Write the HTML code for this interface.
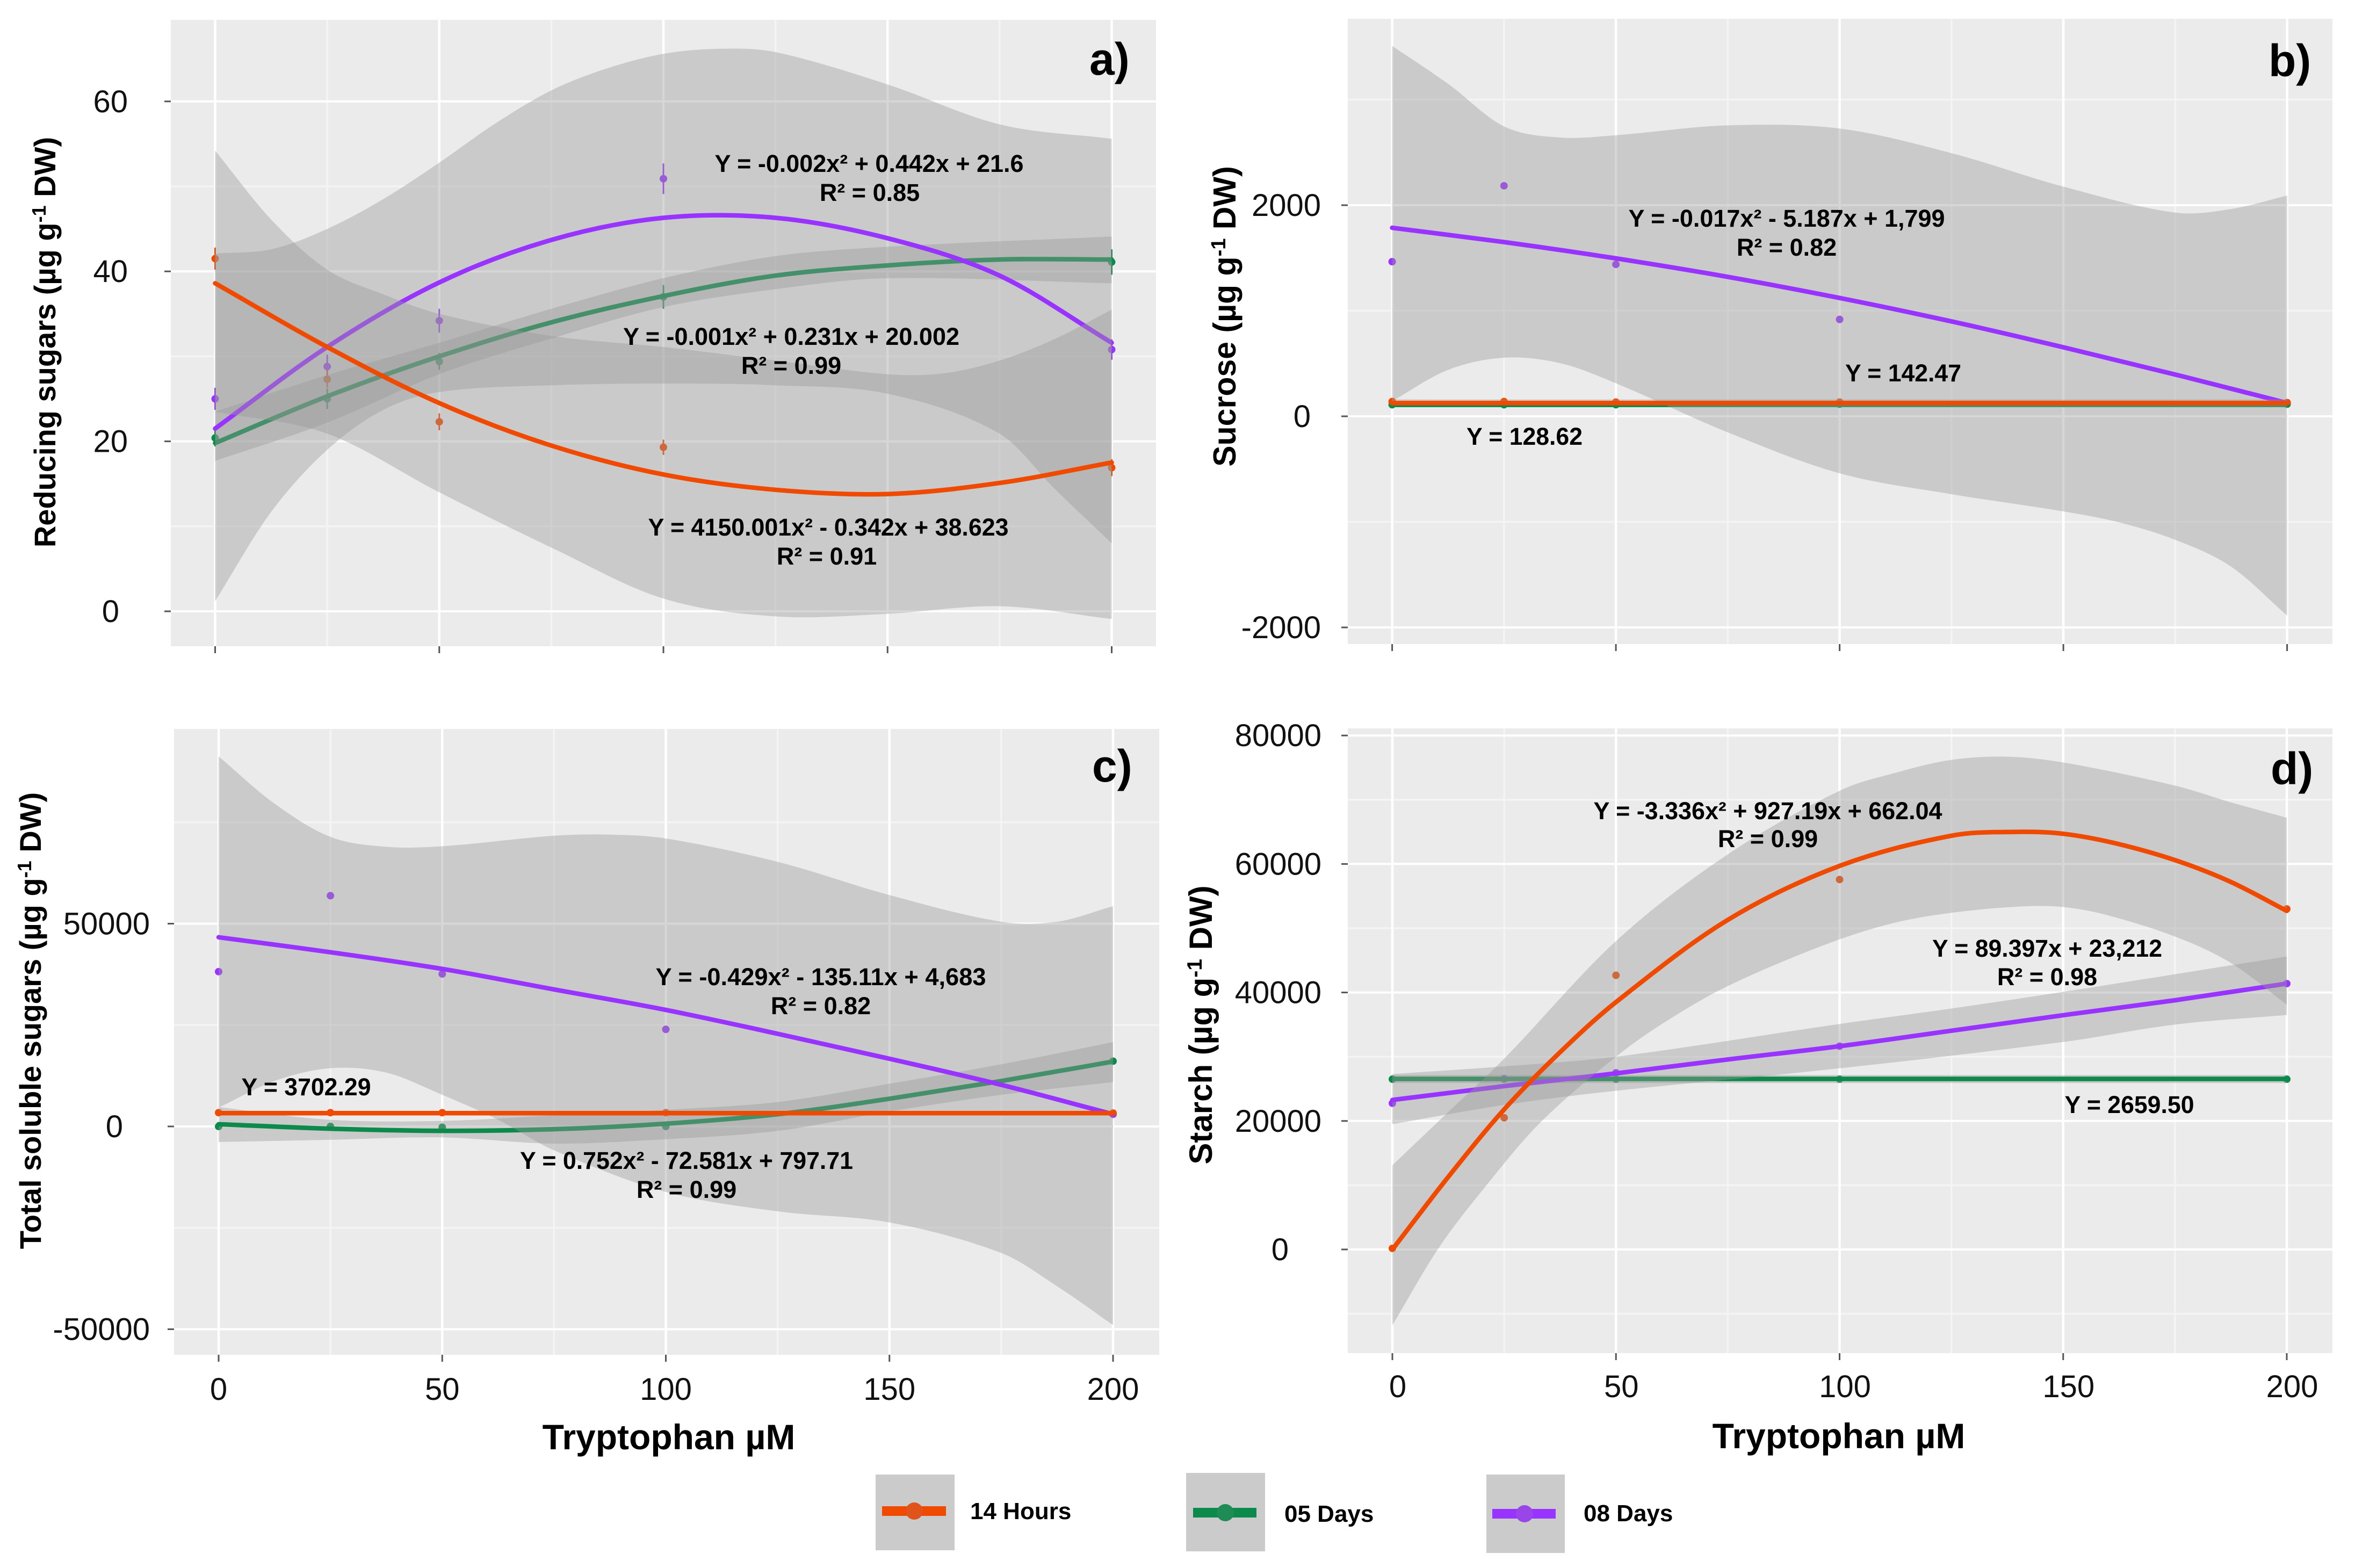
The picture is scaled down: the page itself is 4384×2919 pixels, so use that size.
<!DOCTYPE html>
<html lang="en">
<head>
<meta charset="utf-8">
<title>Sugars and starch versus tryptophan</title>
<style>
html,body{margin:0;padding:0;background:#fff;}
svg{display:block;font-family:"Liberation Sans",Arial,sans-serif;}
.eq{font-size:45px;font-weight:bold;fill:#000;text-anchor:middle;}
.ytitle{font-size:56px;font-weight:bold;fill:#000;text-anchor:middle;}
.xtitle{font-size:66px;font-weight:bold;fill:#000;text-anchor:middle;}
.tag{font-size:84px;font-weight:bold;fill:#000;}
.leg{font-size:44px;font-weight:bold;fill:#000;}
.tick{font-size:58px;fill:#111;}
</style>
</head>
<body>
<svg id="chart" xmlns="http://www.w3.org/2000/svg" width="4384" height="2919" viewBox="0 0 4384 2919">
  <rect x="0" y="0" width="4384" height="2919" fill="#ffffff"/>
  <g id="plots"></g>

  <g>
    <text class="tag" x="2028" y="139">a)</text>
    <text class="tag" x="4223" y="142">b)</text>
    <text class="tag" x="2033" y="1455">c)</text>
    <text class="tag" x="4227" y="1460">d)</text>
  </g>

  <g>
    <text class="ytitle" transform="translate(103,637) rotate(-90)">Reducing sugars (µg g<tspan font-size="36" dy="-18">-1</tspan><tspan dy="18"> DW)</tspan></text>
    <text class="ytitle" style="font-size:59px" transform="translate(2300,589) rotate(-90)">Sucrose (µg g<tspan font-size="38" dy="-19">-1</tspan><tspan dy="19"> DW)</tspan></text>
    <text class="ytitle" transform="translate(76,1900) rotate(-90)">Total soluble sugars (µg g<tspan font-size="36" dy="-18">-1</tspan><tspan dy="18"> DW)</tspan></text>
    <text class="ytitle" style="font-size:60px" transform="translate(2256,1908) rotate(-90)">Starch (µg g<tspan font-size="39" dy="-19">-1</tspan><tspan dy="19"> DW)</tspan></text>
  </g>

  <g>
    <text class="xtitle" x="1245" y="2698">Tryptophan µM</text>
    <text class="xtitle" x="3423" y="2696">Tryptophan µM</text>
  </g>

  <g>
    <text class="eq" x="1618" y="320" textLength="575" lengthAdjust="spacingAndGlyphs">Y = -0.002x² + 0.442x + 21.6</text>
    <text class="eq" x="1619" y="374">R² = 0.85</text>
    <text class="eq" x="1473" y="642" textLength="626" lengthAdjust="spacingAndGlyphs">Y = -0.001x² + 0.231x + 20.002</text>
    <text class="eq" x="1473" y="696">R² = 0.99</text>
    <text class="eq" x="1542" y="997" textLength="671" lengthAdjust="spacingAndGlyphs">Y = 4150.001x² - 0.342x + 38.623</text>
    <text class="eq" x="1539" y="1051">R² = 0.91</text>

    <text class="eq" x="3326" y="422" textLength="589" lengthAdjust="spacingAndGlyphs">Y = -0.017x² - 5.187x + 1,799</text>
    <text class="eq" x="3326" y="476">R² = 0.82</text>
    <text class="eq" x="3543" y="710" textLength="216" lengthAdjust="spacingAndGlyphs">Y = 142.47</text>
    <text class="eq" x="2838" y="828" textLength="216" lengthAdjust="spacingAndGlyphs">Y = 128.62</text>

    <text class="eq" x="1528" y="1834" textLength="615" lengthAdjust="spacingAndGlyphs">Y = -0.429x² - 135.11x + 4,683</text>
    <text class="eq" x="1528" y="1888">R² = 0.82</text>
    <text class="eq" x="570" y="2039" textLength="241" lengthAdjust="spacingAndGlyphs">Y = 3702.29</text>
    <text class="eq" x="1278" y="2176" textLength="620" lengthAdjust="spacingAndGlyphs">Y = 0.752x² - 72.581x + 797.71</text>
    <text class="eq" x="1278" y="2230">R² = 0.99</text>

    <text class="eq" x="3291" y="1525" textLength="649" lengthAdjust="spacingAndGlyphs">Y = -3.336x² + 927.19x + 662.04</text>
    <text class="eq" x="3291" y="1577">R² = 0.99</text>
    <text class="eq" x="3811" y="1781" textLength="428" lengthAdjust="spacingAndGlyphs">Y = 89.397x + 23,212</text>
    <text class="eq" x="3811" y="1834">R² = 0.98</text>
    <text class="eq" x="3964" y="2072" textLength="241" lengthAdjust="spacingAndGlyphs">Y = 2659.50</text>
  </g>

  <g>
    <g>
      <rect x="1630" y="2745" width="147" height="141" fill="#cbcbcb"/>
      <line x1="1642" x2="1761" y1="2813" y2="2813" stroke="#F04A00" stroke-width="18"/>
      <circle cx="1702" cy="2813" r="16" fill="#E0531B"/>
      <text class="leg" x="1806" y="2828">14 Hours</text>
    </g>
    <g>
      <rect x="2208" y="2742" width="147" height="146" fill="#cbcbcb"/>
      <line x1="2221" x2="2339" y1="2816" y2="2816" stroke="#0B8A4B" stroke-width="18"/>
      <circle cx="2281" cy="2816" r="16" fill="#1F8C55"/>
      <text class="leg" x="2391" y="2833">05 Days</text>
    </g>
    <g>
      <rect x="2767" y="2745" width="146" height="146" fill="#cbcbcb"/>
      <line x1="2778" x2="2896" y1="2818" y2="2818" stroke="#9933FF" stroke-width="18"/>
      <circle cx="2838" cy="2818" r="16" fill="#9A45EA"/>
      <text class="leg" x="2948" y="2832">08 Days</text>
    </g>
  </g>
</svg>

<script>
// ---------- shared axis data ----------
const doses = [0, 25, 50, 100, 200];
const fitDoses = [0, 25, 50, 75, 100, 125, 150, 175, 200];
const xMajorTicks = [0, 50, 100, 150, 200];
const xMinorTicks = [25, 75, 125, 175];
const xTickLabels = ['0', '50', '100', '150', '200'];

// ---------- panel a: reducing sugars ----------
const aYTicks = [0, 20, 40, 60];
const aYMinor = [10, 30, 50];
const aYLabels = ['0', '20', '40', '60'];
const aRedPoints = [41.5, 27.3, 22.3, 19.3, 16.9];
const aRedErrors = [1.3, 1.0, 1.0, 0.9, 1.0];
const aGreenPoints = [20.4, 25.0, 29.4, 37.0, 41.1];
const aGreenErrors = [1.0, 1.2, 1.0, 1.4, 1.5];
const aPurplePoints = [25.0, 28.8, 34.2, 50.9, 30.8];
const aPurpleErrors = [1.3, 1.4, 1.4, 1.8, 1.2];
const aRedFit = [38.6, 31.1, 24.5, 19.5, 16.1, 14.3, 13.8, 15.1, 17.5];
const aGreenFit = [19.8, 25.3, 30.0, 34.0, 37.1, 39.5, 40.7, 41.4, 41.4];
const aPurpleFit = [21.5, 31.1, 38.7, 43.7, 46.3, 46.3, 43.9, 39.5, 31.6];
const aRedUpperX = [0, 12.5, 25, 37.5, 50, 75, 100, 125, 150, 162.5, 175, 187.5, 200];
const aRedUpper = [54.2, 46.1, 40.2, 37.3, 35, 32.4, 31.1, 29.5, 27.9, 28, 29.5, 32.1, 35.5];
const aRedLowerX = [0, 25, 50, 75, 100, 125, 150, 175, 200];
const aRedLower = [23.5, 20.9, 14, 7.5, 1.5, -0.6, -0.3, 0.6, -0.9];
const aGreenUpperX = [0, 25, 50, 75, 100, 125, 150, 200];
const aGreenUpper = [23.5, 27.8, 31.6, 35.6, 39.2, 41.8, 42.9, 44.1];
const aGreenLowerX = [0, 25, 50, 75, 100, 125, 150, 200];
const aGreenLower = [17.7, 22.2, 27.9, 32.1, 35.8, 37.9, 39.2, 38.6];
const aPurpleUpperX = [0, 12.5, 25, 37.5, 50, 62.5, 75, 87.5, 100, 112.5, 125, 150, 175, 200];
const aPurpleUpper = [42.1, 42.6, 45, 48.5, 52.8, 57.4, 61.3, 63.9, 65.6, 66.2, 65.8, 62, 57.3, 55.6];
const aPurpleLowerX = [0, 12.5, 25, 37.5, 50, 75, 100, 125, 150, 175, 187.5, 200];
const aPurpleLower = [1.2, 11.7, 19, 23.7, 25.8, 26.6, 26.8, 26.6, 25.6, 20.9, 14.3, 8];

// ---------- panel b: sucrose ----------
const bYTicks = [-2000, 0, 2000];
const bYMinor = [-1000, 1000, 3000];
const bYLabels = ['-2000', '0', '2000'];
const bRedPoints = [140, 140, 135, 135, 130];
const bGreenPoints = [110, 110, 110, 115, 115];
const bPurplePoints = [1465, 2184, 1439, 918, 130];
const bRedFit = [125, 125, 125, 125, 125, 125, 125, 125, 125];
const bGreenFit = [108, 108, 108, 108, 108, 108, 108, 108, 108];
const bPurpleFit = [1786, 1651, 1496, 1321, 1121, 899, 654, 396, 126];
const bRedUpper = [160, 160, 160, 160, 160, 160, 160, 160, 160];
const bRedLower = [105, 105, 105, 105, 105, 105, 105, 105, 105];
const bGreenUpper = [130, 130, 130, 130, 130, 130, 130, 130, 130];
const bGreenLower = [88, 88, 88, 88, 88, 88, 88, 88, 88];
const bPurpleUpperX = [0, 12.5, 25, 37.5, 50, 75, 100, 125, 150, 175, 187.5, 200];
const bPurpleUpper = [3509, 3150, 2747, 2641, 2663, 2756, 2726, 2493, 2176, 1930, 1964, 2091];
const bPurpleLowerX = [0, 12.5, 25, 37.5, 50, 75, 100, 125, 150, 162.5, 175, 187.5, 200];
const bPurpleLower = [144, 440, 555, 504, 313, -152, -540, -738, -901, -1005, -1170, -1425, -1888];

// ---------- panel c: total soluble sugars ----------
const cYTicks = [-50000, 0, 50000];
const cYMinor = [-25000, 25000, 75000];
const cYLabels = ['-50000', '0', '50000'];
const cRedPoints = [3400, 3400, 3400, 3400, 3300];
const cGreenPoints = [0, 0, -200, 0, 16100];
const cPurplePoints = [38170, 56900, 37600, 23940, 3000];
const cRedFit = [3280, 3280, 3280, 3280, 3280, 3280, 3280, 3280, 3280];
const cGreenFit = [550, -550, -1090, -680, 680, 3000, 6840, 11200, 16000];
const cPurpleFit = [46650, 42950, 38850, 33790, 28730, 22850, 16690, 10260, 3000];
const cRedUpper = [3700, 3700, 3700, 3700, 3700, 3700, 3700, 3700, 3700];
const cRedLower = [2850, 2850, 2850, 2850, 2850, 2850, 2850, 2850, 2850];
const cGreenUpper = [4790, 1640, 1370, 2740, 4100, 6020, 10530, 15320, 20790];
const cGreenLower = [-3830, -3300, -2700, -4240, -3150, -1100, 3690, 7800, 10940];
const cPurpleUpperX = [0, 12.5, 25, 37.5, 50, 75, 87.5, 100, 125, 150, 175, 187.5, 200];
const cPurpleUpper = [91240, 79600, 71400, 68950, 69080, 71680, 71950, 71000, 65250, 57050, 50480, 50480, 54310];
const cPurpleLowerX = [0, 12.5, 25, 37.5, 50, 62.5, 75, 100, 125, 150, 175, 187.5, 200];
const cPurpleLower = [4650, 11200, 14360, 13270, 7800, 1640, -5880, -16140, -20930, -23670, -31190, -39400, -48970];

// ---------- panel d: starch ----------
const dYTicks = [0, 20000, 40000, 60000, 80000];
const dYMinor = [-10000, 10000, 30000, 50000, 70000];
const dYLabels = ['0', '20000', '40000', '60000', '80000'];
const dRedPoints = [170, 20500, 42670, 57580, 53000];
const dGreenPoints = [26500, 26500, 26500, 26500, 26500];
const dPurplePoints = [22760, 26600, 27500, 31640, 41380];
const dRedFitX = [0, 12.5, 25, 37.5, 50, 75, 100, 125, 139.7, 150, 161.8, 175, 187.5, 200];
const dRedFit = [0, 11300, 21800, 30700, 38500, 51300, 59700, 64400, 65000, 64700, 63200, 60600, 57200, 52700];
const dGreenFit = [26550, 26550, 26550, 26550, 26550, 26550, 26550, 26550, 26550];
const dPurpleFit = [23270, 25430, 27410, 29570, 31640, 34050, 36460, 38790, 41380];
const dRedUpperX = [0, 12.5, 25, 50, 75, 100, 112.5, 125, 137.5, 150, 175, 187.5, 200];
const dRedUpper = [13100, 21400, 29700, 48000, 61500, 71400, 74200, 76200, 76700, 75800, 72200, 69600, 67200];
const dRedLowerX = [0, 10.3, 20.7, 33, 50, 61.4, 75, 97, 111.7, 125, 141, 150, 159.5, 175, 187.5, 200];
const dRedLower = [-11800, 170, 9700, 19700, 30000, 35600, 41000, 47500, 50750, 52400, 53400, 53300, 52100, 48700, 44600, 38100];
const dGreenUpper = [27150, 27150, 27150, 27150, 27150, 27150, 27150, 27150, 27150];
const dGreenLower = [25900, 25900, 25900, 25900, 25900, 25900, 25900, 25900, 25900];
const dPurpleUpperX = [0, 25, 50, 100, 125, 150, 200];
const dPurpleUpper = [27300, 28500, 30000, 35100, 37500, 40100, 45600];
const dPurpleLowerX = [0, 25, 50, 100, 150, 175, 200];
const dPurpleLower = [19500, 22500, 24700, 28190, 32300, 35000, 36500];

// ---------- drawing ----------
const NS = 'http://www.w3.org/2000/svg';
const RED = '#F04A00', GREEN = '#0B8A4B', PURPLE = '#9933FF';

function mk(tag, attrs, parent) {
  const el = document.createElementNS(NS, tag);
  for (const k in attrs) el.setAttribute(k, attrs[k]);
  parent.appendChild(el);
  return el;
}

// Smooth curve through mapped data points
function curve(pts) {
  let d = '';
  const n = pts.length;
  const slope = i => {
    const a = pts[Math.max(i - 1, 0)], b = pts[Math.min(i + 1, n - 1)];
    return (b[1] - a[1]) / (b[0] - a[0]);
  };
  for (let i = 0; i < n - 1; i++) {
    const p = pts[i], q = pts[i + 1], h = (q[0] - p[0]) / 3;
    d += ' C' + (p[0] + h).toFixed(1) + ' ' + (p[1] + slope(i) * h).toFixed(1) + ' ' +
         (q[0] - h).toFixed(1) + ' ' + (q[1] - slope(i + 1) * h).toFixed(1) + ' ' +
         q[0].toFixed(1) + ' ' + q[1].toFixed(1);
  }
  return d;
}

function drawPanel(cfg) {
  const sx = v => cfg.x0 + v * cfg.xk;
  const sy = v => cfg.y0 - v * cfg.yk;
  const root = document.getElementById('plots');

  const g = mk('g', {}, root);
  
  

  const bg = mk('rect', {x: cfg.left, y: cfg.top, width: cfg.right - cfg.left, height: cfg.bottom - cfg.top, fill: '#EBEBEB'}, g);
  
  

  cfg.yMinor.forEach(v => {
    const l = mk('line', {x1: cfg.left, x2: cfg.right, y1: sy(v), y2: sy(v), stroke: '#f4f4f4', 'stroke-width': 3.5}, g);
    
    
  });
  xMinorTicks.forEach(v => {
    const l = mk('line', {x1: sx(v), x2: sx(v), y1: cfg.top, y2: cfg.bottom, stroke: '#f4f4f4', 'stroke-width': 3.5}, g);
    
    
  });
  cfg.yTicks.forEach((v, i) => {
    const l = mk('line', {x1: cfg.left, x2: cfg.right, y1: sy(v), y2: sy(v), stroke: '#fff', 'stroke-width': 4}, g);
    
    
    const t = mk('line', {x1: cfg.left - 12, x2: cfg.left, y1: sy(v), y2: sy(v), stroke: '#555', 'stroke-width': 3}, g);
    
    
    const lab = mk('text', {x: v === 0 ? cfg.labelRight + cfg.zeroDx : cfg.labelRight, y: sy(v) + 20, 'text-anchor': 'end', class: 'tick'}, g);
    
    
    lab.textContent = cfg.yLabels[i];
  });
  xMajorTicks.forEach((v, i) => {
    const l = mk('line', {x1: sx(v), x2: sx(v), y1: cfg.top, y2: cfg.bottom, stroke: '#fff', 'stroke-width': 4.5}, g);
    
    
    const t = mk('line', {x1: sx(v), x2: sx(v), y1: cfg.bottom, y2: cfg.bottom + 13, stroke: '#555', 'stroke-width': 3}, g);
    
    
    if (cfg.showXLabels) {
      const lab = mk('text', {x: sx(v) + cfg.xLabelDx, y: cfg.xLabelY, 'text-anchor': 'middle', class: 'tick'}, g);
      
      
      lab.textContent = xTickLabels[i];
    }
  });

  // Points sit under the smoothers, so ribbons mute them
  cfg.series.forEach(s => {
    s.points.forEach((v, i) => {
      if (s.errors) {
        const e = mk('line', {x1: sx(doses[i]), x2: sx(doses[i]), y1: sy(v - s.errors[i]), y2: sy(v + s.errors[i]), stroke: s.color, 'stroke-width': 3}, g);
        
        
      }
      const c = mk('circle', {cx: sx(doses[i]), cy: sy(v), r: 7, fill: s.color}, g);
      
      
    });
  });

  cfg.series.forEach(s => {
    const up = s.upperX.map((x, i) => [sx(x), sy(s.upper[i])]);
    const lo = s.lowerX.map((x, i) => [sx(x), sy(s.lower[i])]).reverse();
    const d = 'M' + up[0][0] + ' ' + up[0][1] + curve(up) + ' L' + lo[0][0] + ' ' + lo[0][1] + curve(lo) + ' Z';
    const r = mk('path', {d: d, fill: '#999999', 'fill-opacity': 0.4}, g);
    
    

    const fit = s.fitX.map((x, i) => [sx(x), sy(s.fit[i])]);
    const p = mk('path', {d: 'M' + fit[0][0] + ' ' + fit[0][1] + curve(fit), fill: 'none', stroke: s.color, 'stroke-width': 8.5, 'stroke-linecap': 'round'}, g);
    
    
  });
}

drawPanel({
  key: 'a', left: 318, right: 2152, top: 37, bottom: 1203,
  x0: 400.5, xk: 8.345, y0: 1138, yk: 15.82,
  yTicks: aYTicks, yMinor: aYMinor, yLabels: aYLabels,
  labelRight: 238, zeroDx: -16, showXLabels: false,
  series: [
    {name: '05-days', color: GREEN, points: aGreenPoints, errors: aGreenErrors, fitX: fitDoses, fit: aGreenFit, upperX: aGreenUpperX, upper: aGreenUpper, lowerX: aGreenLowerX, lower: aGreenLower},
    {name: '08-days', color: PURPLE, points: aPurplePoints, errors: aPurpleErrors, fitX: fitDoses, fit: aPurpleFit, upperX: aPurpleUpperX, upper: aPurpleUpper, lowerX: aPurpleLowerX, lower: aPurpleLower},
    {name: '14-hours', color: RED, points: aRedPoints, errors: aRedErrors, fitX: fitDoses, fit: aRedFit, upperX: aRedUpperX, upper: aRedUpper, lowerX: aRedLowerX, lower: aRedLower}
  ]
});

drawPanel({
  key: 'b', left: 2509, right: 4342, top: 35, bottom: 1199,
  x0: 2591.6, xk: 8.33, y0: 775, yk: 0.1965,
  yTicks: bYTicks, yMinor: bYMinor, yLabels: bYLabels,
  labelRight: 2459, zeroDx: -19, showXLabels: false,
  series: [
    {name: '05-days', color: GREEN, points: bGreenPoints, fitX: fitDoses, fit: bGreenFit, upperX: fitDoses, upper: bGreenUpper, lowerX: fitDoses, lower: bGreenLower},
    {name: '08-days', color: PURPLE, points: bPurplePoints, fitX: fitDoses, fit: bPurpleFit, upperX: bPurpleUpperX, upper: bPurpleUpper, lowerX: bPurpleLowerX, lower: bPurpleLower},
    {name: '14-hours', color: RED, points: bRedPoints, fitX: fitDoses, fit: bRedFit, upperX: fitDoses, upper: bRedUpper, lowerX: fitDoses, lower: bRedLower}
  ]
});

drawPanel({
  key: 'c', left: 324, right: 2158, top: 1357, bottom: 2522,
  x0: 407, xk: 8.325, y0: 2097, yk: 0.00755,
  yTicks: cYTicks, yMinor: cYMinor, yLabels: cYLabels,
  labelRight: 279, zeroDx: -50, showXLabels: true, xLabelDx: 0, xLabelY: 2606,
  series: [
    {name: '05-days', color: GREEN, points: cGreenPoints, fitX: fitDoses, fit: cGreenFit, upperX: fitDoses, upper: cGreenUpper, lowerX: fitDoses, lower: cGreenLower},
    {name: '08-days', color: PURPLE, points: cPurplePoints, fitX: fitDoses, fit: cPurpleFit, upperX: cPurpleUpperX, upper: cPurpleUpper, lowerX: cPurpleLowerX, lower: cPurpleLower},
    {name: '14-hours', color: RED, points: cRedPoints, fitX: fitDoses, fit: cRedFit, upperX: fitDoses, upper: cRedUpper, lowerX: fitDoses, lower: cRedLower}
  ]
});

drawPanel({
  key: 'd', left: 2509, right: 4342, top: 1356, bottom: 2519,
  x0: 2592, xk: 8.325, y0: 2326, yk: 0.01196,
  yTicks: dYTicks, yMinor: dYMinor, yLabels: dYLabels,
  labelRight: 2460, zeroDx: -61, showXLabels: true, xLabelDx: 10, xLabelY: 2601,
  series: [
    {name: '05-days', color: GREEN, points: dGreenPoints, fitX: fitDoses, fit: dGreenFit, upperX: fitDoses, upper: dGreenUpper, lowerX: fitDoses, lower: dGreenLower},
    {name: '08-days', color: PURPLE, points: dPurplePoints, fitX: fitDoses, fit: dPurpleFit, upperX: dPurpleUpperX, upper: dPurpleUpper, lowerX: dPurpleLowerX, lower: dPurpleLower},
    {name: '14-hours', color: RED, points: dRedPoints, fitX: dRedFitX, fit: dRedFit, upperX: dRedUpperX, upper: dRedUpper, lowerX: dRedLowerX, lower: dRedLower}
  ]
});
</script>
</body>
</html>
